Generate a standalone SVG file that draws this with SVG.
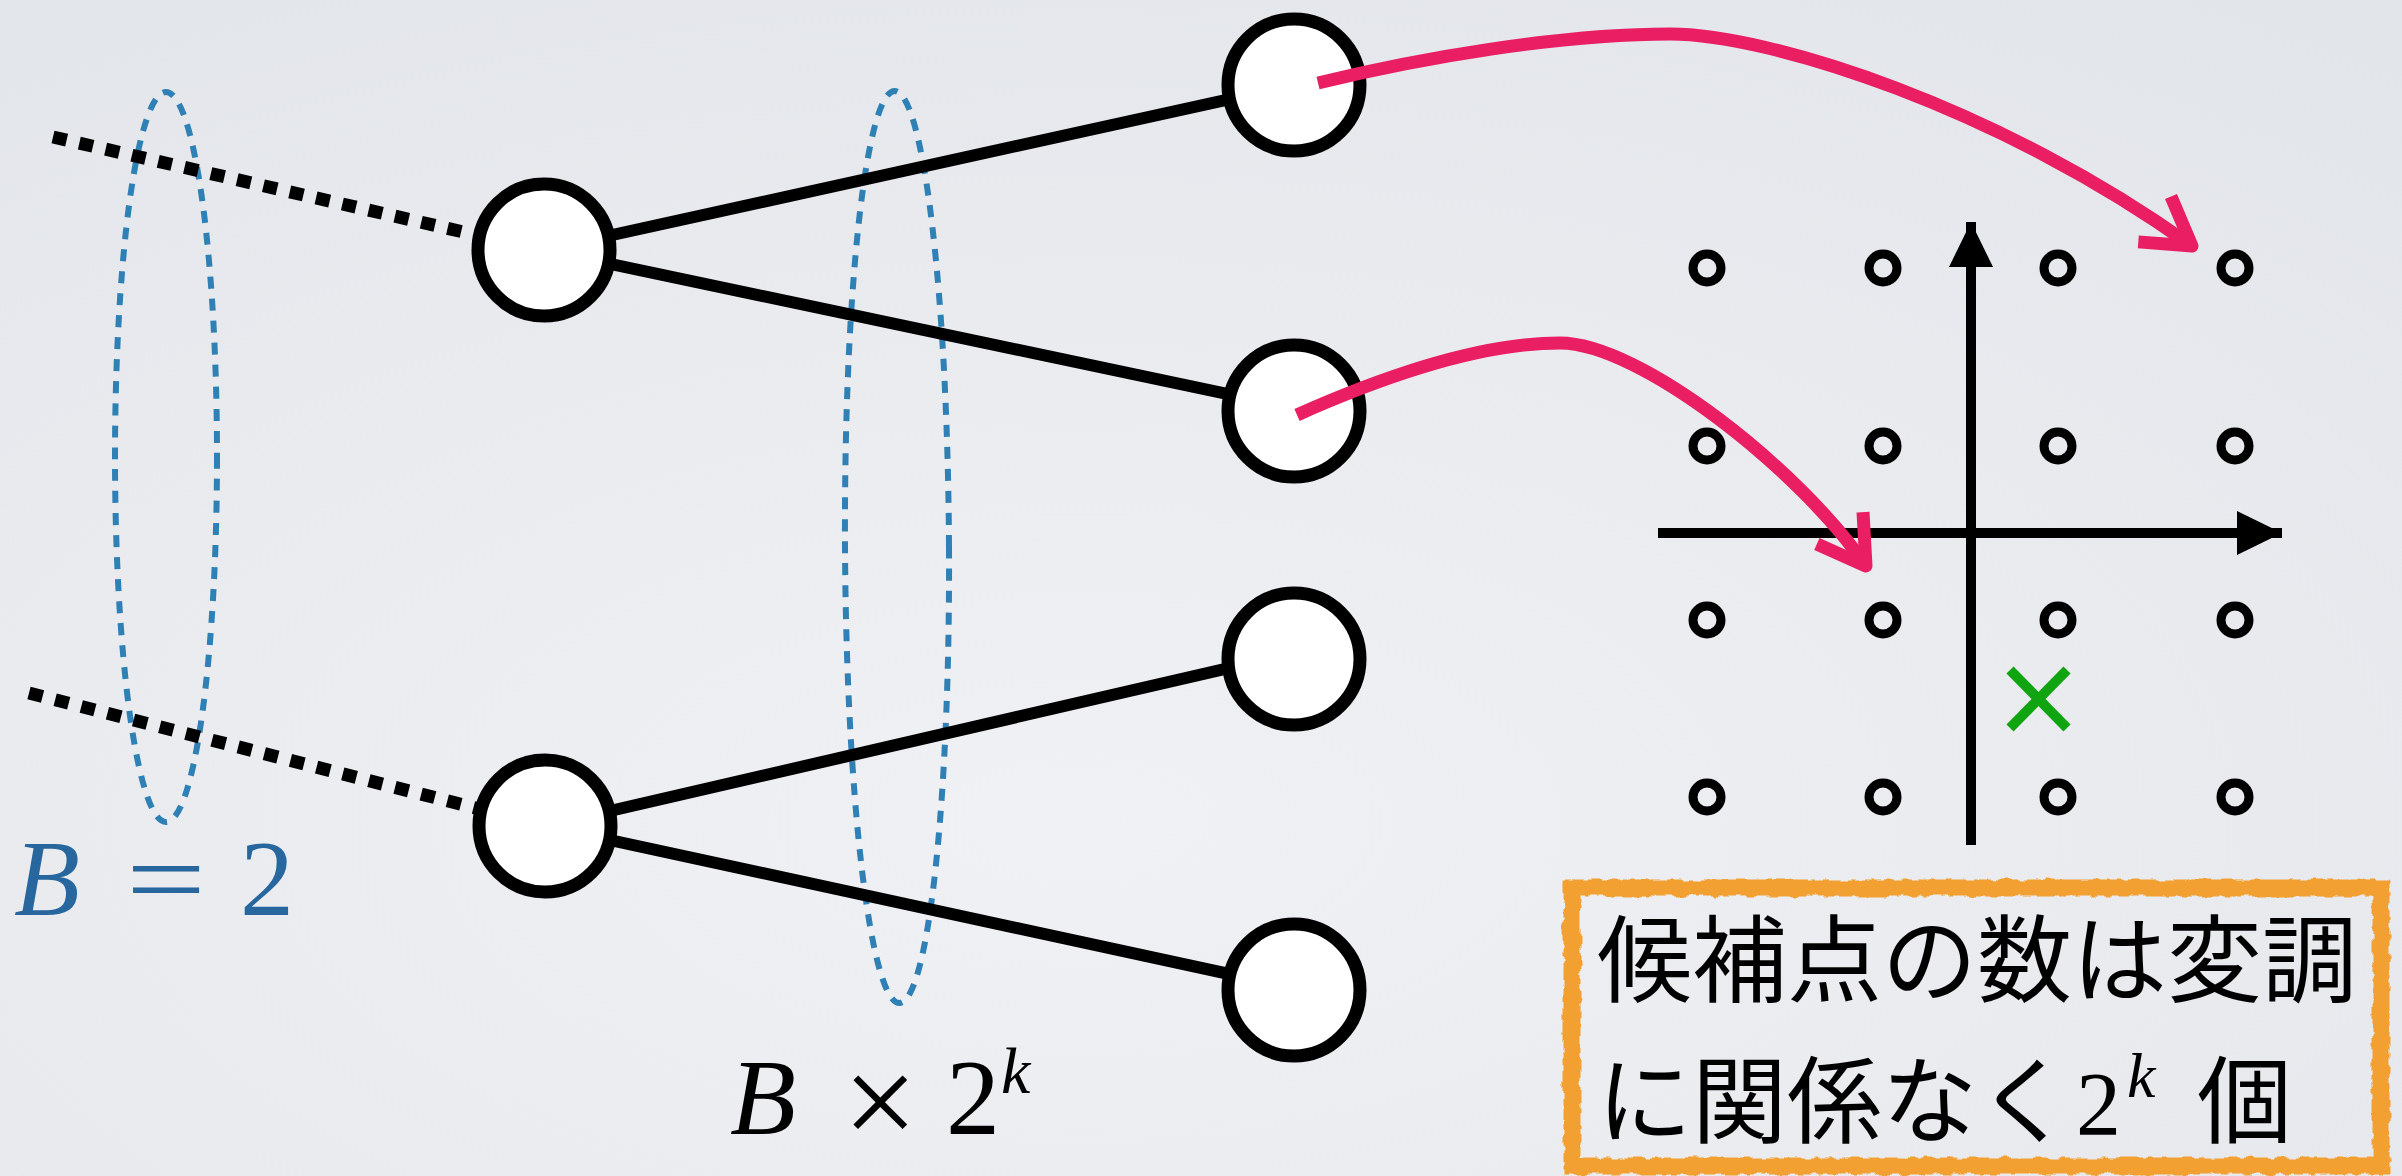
<svg xmlns="http://www.w3.org/2000/svg" width="2402" height="1176" viewBox="0 0 2402 1176">
<defs>
<radialGradient id="bg" cx="0.45" cy="0.7" r="0.85">
<stop offset="0" stop-color="#f0f1f5"/>
<stop offset="1" stop-color="#e2e5e9"/>
</radialGradient>
<marker id="vhead" markerUnits="userSpaceOnUse" orient="auto" refX="0" refY="0" markerWidth="10" markerHeight="10" overflow="visible">
<path d="M-46,-28 L0,0 L-46,28" fill="none" stroke="#e91e63" stroke-width="13" stroke-linejoin="round"/>
</marker>
<marker id="axhead" markerUnits="userSpaceOnUse" orient="auto" refX="0" refY="0" markerWidth="10" markerHeight="10" overflow="visible">
<path d="M-45,-22 L0,0 L-45,22 Z" fill="#000"/>
</marker>
<filter id="rough" x="-5%" y="-5%" width="110%" height="110%">
<feTurbulence type="fractalNoise" baseFrequency="0.09" numOctaves="2" seed="3" result="n"/>
<feDisplacementMap in="SourceGraphic" in2="n" scale="7" xChannelSelector="R" yChannelSelector="G"/>
</filter>
</defs>
<style>
.node{fill:#fff;stroke:#000;stroke-width:13}
.edge{stroke:#000;stroke-width:12;fill:none}
.dots{stroke:#000;stroke-width:13;stroke-dasharray:14 13;fill:none}
.grp{fill:none;stroke:#2f80b5;stroke-width:6;stroke-dasharray:12 10}
.pink{fill:none;stroke:#e91e63;stroke-width:13;marker-end:url(#vhead)}
.pt{fill:none;stroke:#000;stroke-width:9}
.axis{stroke:#000;stroke-width:10;fill:none;marker-end:url(#axhead)}
.math{font-family:'Liberation Serif','Times New Roman',serif}
.it{font-style:italic}
.jp{font-family:'Noto Sans CJK JP','Noto Sans CJK SC',sans-serif;font-size:95px;fill:#000}
</style>
<rect width="2402" height="1176" fill="url(#bg)"/>

<g id="groupings">
<ellipse cx="166" cy="457" rx="51" ry="365" class="grp"/>
<ellipse cx="897" cy="547" rx="52" ry="456" class="grp" transform="rotate(-0.3 897 547)"/>
</g>

<g id="connectors">
<line class="dots" x1="53" y1="137" x2="541" y2="250"/>
<line class="dots" x1="29" y1="693" x2="545" y2="826"/>
<line class="edge" x1="544" y1="250" x2="1294" y2="85"/>
<line class="edge" x1="544" y1="250" x2="1294" y2="408"/>
<line class="edge" x1="545" y1="826" x2="1294" y2="653"/>
<line class="edge" x1="545" y1="826" x2="1294" y2="988"/>
</g>

<g id="node-root1"><circle class="node" cx="544" cy="250" r="66"/></g>
<g id="node-root2"><circle class="node" cx="545" cy="826" r="66"/></g>
<g id="node-c1"><circle class="node" cx="1294" cy="85" r="66"/></g>
<g id="node-c2"><circle class="node" cx="1294" cy="411" r="66"/></g>
<g id="node-c3"><circle class="node" cx="1294" cy="659" r="66"/></g>
<g id="node-c4"><circle class="node" cx="1294" cy="990" r="66"/></g>

<g id="constellation">
<circle class="pt" cx="1707" cy="268" r="14"/>
<circle class="pt" cx="1883" cy="268" r="14"/>
<circle class="pt" cx="2058" cy="268" r="14"/>
<circle class="pt" cx="2235" cy="268" r="14"/>
<circle class="pt" cx="1707" cy="446" r="14"/>
<circle class="pt" cx="1883" cy="446" r="14"/>
<circle class="pt" cx="2058" cy="446" r="14"/>
<circle class="pt" cx="2235" cy="446" r="14"/>
<circle class="pt" cx="1707" cy="620" r="14"/>
<circle class="pt" cx="1883" cy="620" r="14"/>
<circle class="pt" cx="2058" cy="620" r="14"/>
<circle class="pt" cx="2235" cy="620" r="14"/>
<circle class="pt" cx="1707" cy="797" r="14"/>
<circle class="pt" cx="1883" cy="797" r="14"/>
<circle class="pt" cx="2058" cy="797" r="14"/>
<circle class="pt" cx="2235" cy="797" r="14"/>
<line class="axis" x1="1658" y1="533" x2="2282" y2="533"/>
<line class="axis" x1="1971" y1="845" x2="1971" y2="222"/>
<g id="received" stroke="#10a510" stroke-width="10">
<line x1="2010" y1="670" x2="2067" y2="728"/>
<line x1="2067" y1="670" x2="2010" y2="728"/>
</g>
</g>

<g id="mapping-arrows">
<path class="pink" d="M1318,83 C1420,58 1560,34 1670,34 C1770,34 2000,108 2192,246"/>
<path class="pink" d="M1297,415 C1380,378 1480,343 1560,343 C1640,343 1800,470 1866,566"/>
</g>

<g id="label-B">
<text class="math" font-size="108" fill="#27679e" y="915"><tspan class="it" x="14">B</tspan><tspan x="126" textLength="80" lengthAdjust="spacingAndGlyphs">=</tspan><tspan x="240">2</tspan></text>
</g>
<g id="label-Bx2k">
<text class="math" font-size="108" fill="#000" y="1134"><tspan class="it" x="730">B</tspan><tspan x="946">2</tspan></text>
<text class="math" font-size="132" fill="#000" x="843" y="1146">×</text>
<text class="math it" font-size="66" fill="#000" x="1001" y="1093">k</text>
</g>

<g id="note">
<rect x="1572" y="888" width="809" height="278" fill="none" stroke="#f2a033" stroke-width="17" filter="url(#rough)"/>
<text class="jp" x="1597" y="995">候補点の数は変調</text>
<text class="jp" x="1597" y="1136">に関係なく</text>
<text class="math" font-size="90" x="2076" y="1135">2</text>
<text class="math it" font-size="64" x="2127" y="1097">k</text>
<text class="jp" x="2197" y="1136">個</text>
</g>
</svg>
